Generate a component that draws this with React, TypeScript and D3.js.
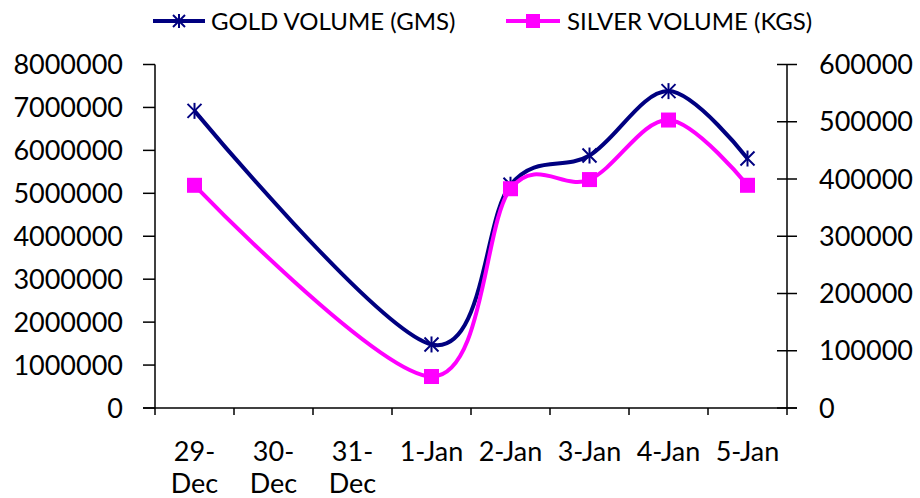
import React from "react";
import * as d3 from "d3";

const categories: string[] = ["29-Dec", "30-Dec", "31-Dec", "1-Jan", "2-Jan", "3-Jan", "4-Jan", "5-Jan"];
const goldVolume: (number | null)[] = [6920000, null, null, 1480000, 5200000, 5880000, 7380000, 5810000];
const silverVolume: (number | null)[] = [389000, null, null, 55000, 383000, 399000, 503000, 389000];
const leftTicks: number[] = [0, 1000000, 2000000, 3000000, 4000000, 5000000, 6000000, 7000000, 8000000];
const rightTicks: number[] = [0, 100000, 200000, 300000, 400000, 500000, 600000];
const seriesNames: string[] = ["GOLD VOLUME (GMS)", "SILVER VOLUME (KGS)"];

const W = 920;
const H = 498;
const X0 = 155;
const X1 = 787;
const Y0 = 408;
const Y1 = 64.5;
const GOLD = "#000080";
const SILVER = "#FF00FF";
const FONT = "Lato, 'Open Sans', sans-serif";

function Star({ x, y, s = 7 }: { x: number; y: number; s?: number }) {
  return (
    <g stroke={GOLD} strokeWidth={2}>
      <line x1={x - s} y1={y - s} x2={x + s} y2={y + s} />
      <line x1={x - s} y1={y + s} x2={x + s} y2={y - s} />
      <line x1={x} y1={y - s - 1} x2={x} y2={y + s + 1} />
    </g>
  );
}

function Square({ x, y, s = 7.5 }: { x: number; y: number; s?: number }) {
  return <rect x={x - s} y={y - s} width={2 * s} height={2 * s} fill={SILVER} />;
}

export default function App() {
  const x = d3.scaleBand<string>().domain(categories).range([X0, X1]).padding(0);
  const bw = x.bandwidth();
  const cx = (c: string) => (x(c) as number) + bw / 2;
  const yL = d3.scaleLinear().domain([0, 8000000]).range([Y0, Y1]);
  const yR = d3.scaleLinear().domain([0, 600000]).range([Y0, Y1]);

  const goldPts = categories
    .map((c, i) => ({ c, v: goldVolume[i] }))
    .filter((d) => d.v !== null) as { c: string; v: number }[];
  const silverPts = categories
    .map((c, i) => ({ c, v: silverVolume[i] }))
    .filter((d) => d.v !== null) as { c: string; v: number }[];

  const goldLine = d3
    .line<{ c: string; v: number }>()
    .x((d) => cx(d.c))
    .y((d) => yL(d.v))
    .curve(d3.curveCardinal.tension(0));
  const silverLine = d3
    .line<{ c: string; v: number }>()
    .x((d) => cx(d.c))
    .y((d) => yR(d.v))
    .curve(d3.curveCardinal.tension(0));

  const boundaries = d3.range(categories.length + 1).map((i) => X0 + i * bw);

  return (
    <svg
      width={W}
      height={H}
      style={{ position: "absolute", left: 0, top: 0, background: "#fff" }}
      fontFamily={FONT}
    >
      <rect x={0} y={0} width={W} height={H} fill="#fff" />
      {/* Left axis */}
      <line x1={X0} y1={Y1} x2={X0} y2={Y0} stroke="#000" strokeWidth={1.5} />
      {leftTicks.map((t) => (
        <g key={"l" + t}>
          <line x1={X0 - 12} x2={X0} y1={yL(t)} y2={yL(t)} stroke="#000" strokeWidth={1.5} />
          <text x={123} y={yL(t)} dy="0.36em" textAnchor="end" fontSize={27} fill="#000">
            {t}
          </text>
        </g>
      ))}
      {/* Right axis */}
      <line x1={X1} y1={Y1} x2={X1} y2={Y0} stroke="#000" strokeWidth={1.5} />
      {rightTicks.map((t) => (
        <g key={"r" + t}>
          <line x1={X1 - 10} x2={X1 + 10} y1={yR(t)} y2={yR(t)} stroke="#000" strokeWidth={1.5} />
          <text x={819} y={yR(t)} dy="0.36em" textAnchor="start" fontSize={27} fill="#000">
            {t}
          </text>
        </g>
      ))}
      {/* X axis */}
      <line x1={X0 - 12} x2={X1 + 10} y1={Y0} y2={Y0} stroke="#000" strokeWidth={1.5} />
      {boundaries.map((b, i) => (
        <line key={"xt" + i} x1={b} x2={b} y1={Y0} y2={Y0 + 7} stroke="#000" strokeWidth={1.5} />
      ))}
      {categories.map((c) => {
        const lines = c.length >= 6 ? [c.slice(0, c.indexOf("-") + 1), c.slice(c.indexOf("-") + 1)] : [c];
        return (
          <text key={"xl" + c} x={cx(c)} textAnchor="middle" fontSize={27} fill="#000">
            {lines.map((l, i) => (
              <tspan key={i} x={cx(c)} y={461 + i * 32}>
                {l}
              </tspan>
            ))}
          </text>
        );
      })}
      {/* Gold series */}
      <path d={goldLine(goldPts) || ""} fill="none" stroke={GOLD} strokeWidth={4} />
      {goldPts.map((d) => (
        <Star key={"g" + d.c} x={cx(d.c)} y={yL(d.v)} />
      ))}
      {/* Silver series */}
      <path d={silverLine(silverPts) || ""} fill="none" stroke={SILVER} strokeWidth={4} />
      {silverPts.map((d) => (
        <Square key={"s" + d.c} x={cx(d.c)} y={yR(d.v)} />
      ))}
      {/* Legend */}
      <line x1={153} x2={205} y1={21} y2={21} stroke={GOLD} strokeWidth={4} />
      <Star x={179} y={21} s={6} />
      <text x={211} y={21} dy="0.36em" fontSize={24} fill="#000">
        {seriesNames[0]}
      </text>
      <line x1={506} x2={560} y1={21} y2={21} stroke={SILVER} strokeWidth={4} />
      <Square x={533} y={21} s={7} />
      <text x={567} y={21} dy="0.36em" fontSize={24} fill="#000">
        {seriesNames[1]}
      </text>
    </svg>
  );
}
